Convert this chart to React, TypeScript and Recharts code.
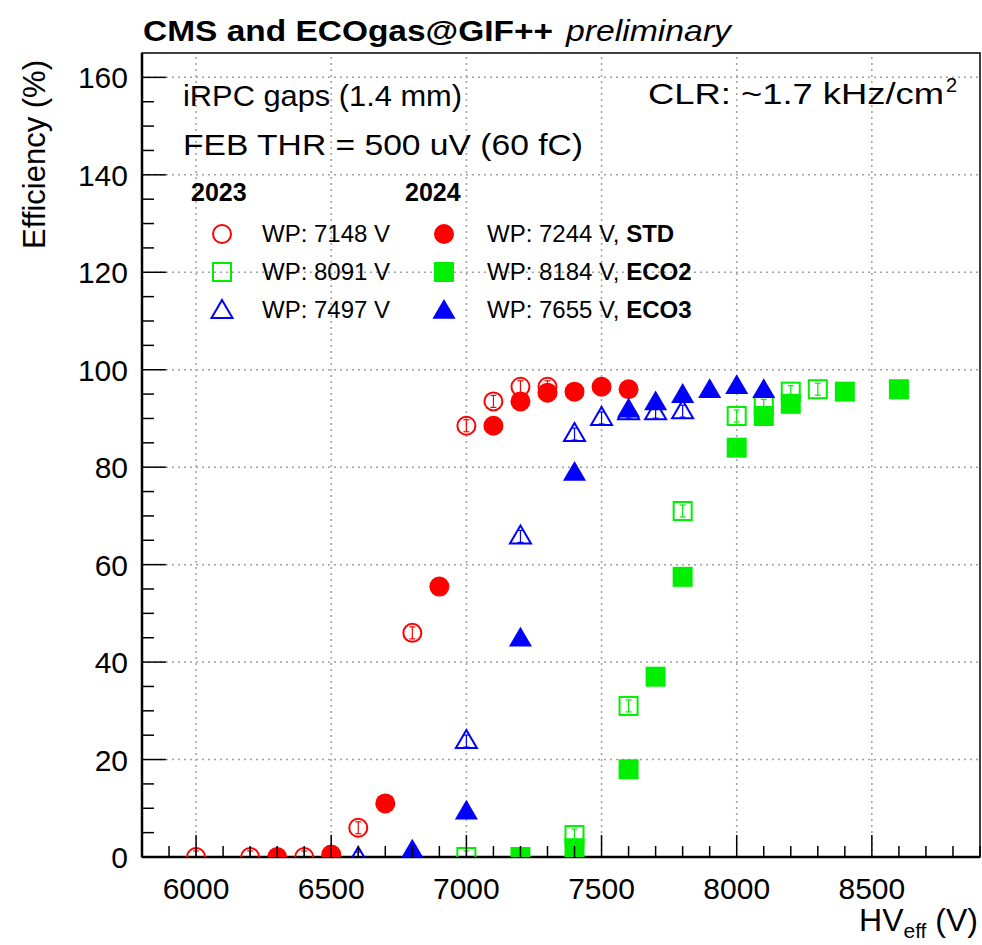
import React from "react";
import {
  ScatterChart,
  Scatter,
  XAxis,
  YAxis,
  ReferenceLine,
  ReferenceArea,
} from "recharts";

const FONT = '"Liberation Sans", Arial, Helvetica, sans-serif';

// 2023 scans (open markers)
const stdHv2023 = [6000, 6200, 6400, 6600, 6800, 7000, 7100, 7200, 7300];
const stdEff2023 = [0, 0, 0, 6, 46, 88.5, 93.5, 96.5, 96.5];
const eco2Hv2023 = [7000, 7400, 7600, 7800, 8000, 8100, 8200, 8300];
const eco2Eff2023 = [0, 4.5, 31, 71, 90.5, 92.7, 95.5, 96];
const eco3Hv2023 = [6600, 7000, 7200, 7400, 7500, 7600, 7700, 7800];
const eco3Eff2023 = [0, 24, 66, 87, 90.3, 91.5, 91.5, 91.7];

// 2024 scans (filled markers)
const stdHv2024 = [6300, 6500, 6700, 6900, 7100, 7200, 7300, 7400, 7500, 7600];
const stdEff2024 = [0, 0.5, 11, 55.5, 88.5, 93.5, 95.3, 95.5, 96.5, 96];
const eco2Hv2024 = [7200, 7400, 7600, 7700, 7800, 8000, 8100, 8200, 8400, 8600];
const eco2Eff2024 = [0, 1.8, 18, 37, 57.5, 84, 90.5, 93, 95.5, 96];
const eco3Hv2024 = [6800, 7000, 7200, 7400, 7600, 7700, 7800, 7900, 8000, 8100];
const eco3Eff2024 = [1.5, 9.5, 45, 79, 92, 93.5, 95, 96, 96.8, 96];

const xMajor = [6000, 6500, 7000, 7500, 8000, 8500];
const yMajor = [0, 20, 40, 60, 80, 100, 120, 140, 160];

const X_DOMAIN = [5800, 8900];
const Y_DOMAIN = [0, 165];
const xMinor = Array.from({ length: 32 }, (_, i) => 5800 + i * 100);
const yMinor = Array.from({ length: 33 }, (_, i) => i * 5);

const RED = "#ff0000";
const GREEN = "#00ee00";
const BLUE = "#0000ff";

const toPoints = (hv: number[], eff: number[]) =>
  hv.map((v, i) => ({ hv: v, eff: eff[i] }));

// markers
const ErrTick = ({ cx, cy, color }: any) => (
  <g stroke={color} strokeWidth={1.2}>
    <line x1={cx} y1={cy - 6} x2={cx} y2={cy + 6} />
    <line x1={cx - 3} y1={cy - 6} x2={cx + 3} y2={cy - 6} />
    <line x1={cx - 3} y1={cy + 6} x2={cx + 3} y2={cy + 6} />
  </g>
);

const OpenCircle = ({ cx, cy, color, err = true }: any) => (
  <g>
    <circle cx={cx} cy={cy} r={9} fill="none" stroke={color} strokeWidth={2} />
    {err && <ErrTick cx={cx} cy={cy} color={color} />}
  </g>
);
const FilledCircle = ({ cx, cy, color }: any) => (
  <circle cx={cx} cy={cy} r={10} fill={color} />
);
const OpenSquare = ({ cx, cy, color, err = true }: any) => (
  <g>
    <rect x={cx - 9} y={cy - 9} width={18} height={18} fill="none" stroke={color} strokeWidth={2} />
    {err && <ErrTick cx={cx} cy={cy} color={color} />}
  </g>
);
const FilledSquare = ({ cx, cy, color }: any) => (
  <rect x={cx - 10} y={cy - 10} width={20} height={20} fill={color} />
);
const triPath = (cx: number, cy: number, s: number) =>
  `M${cx},${cy - s} L${cx + s * 1.05},${cy + s * 0.8} L${cx - s * 1.05},${cy + s * 0.8} Z`;
const OpenTriangle = ({ cx, cy, color, err = true }: any) => (
  <g>
    <path d={triPath(cx, cy, 10)} fill="none" stroke={color} strokeWidth={2} />
    {err && <ErrTick cx={cx} cy={cy + 1} color={color} />}
  </g>
);
const FilledTriangle = ({ cx, cy, color }: any) => (
  <path d={triPath(cx, cy, 11)} fill={color} />
);

// axis ticks drawn inside the frame, ROOT style
const XTick = ({ x, y, payload }: any) => {
  const major = payload.value % 500 === 0;
  return (
    <g>
      <line x1={x} y1={y} x2={x} y2={y - (major ? 22 : 11)} stroke="#000" strokeWidth={1.5} />
      {major && (
        <text x={x} y={y + 42} textAnchor="middle" fontSize={30} fontFamily={FONT} fill="#000">
          {payload.value}
        </text>
      )}
    </g>
  );
};
const YTick = ({ x, y, payload }: any) => {
  const major = payload.value % 20 === 0;
  return (
    <g>
      <line x1={x} y1={y} x2={x + (major ? 24 : 12)} y2={y} stroke="#000" strokeWidth={1.5} />
      {major && (
        <text x={x - 14} y={y + 11} textAnchor="end" fontSize={30} fontFamily={FONT} fill="#000">
          {payload.value}
        </text>
      )}
    </g>
  );
};

const GRID = { stroke: "#a0a0a0", strokeWidth: 1.5, strokeDasharray: "2 4" };
const FIT = { lengthAdjust: "spacingAndGlyphs" as const };

export default function App() {
  const legendRows = [
    { y: 234, open: OpenCircle, filled: FilledCircle, color: RED, l: "WP: 7148 V", r: "WP: 7244 V, ", tag: "STD" },
    { y: 272, open: OpenSquare, filled: FilledSquare, color: GREEN, l: "WP: 8091 V", r: "WP: 8184 V, ", tag: "ECO2" },
    { y: 310, open: OpenTriangle, filled: FilledTriangle, color: BLUE, l: "WP: 7497 V", r: "WP: 7655 V, ", tag: "ECO3" },
  ];

  return (
    <div style={{ position: "absolute", left: 0, top: 0, width: 982, height: 945, background: "#fff" }}>
      <ScatterChart width={982} height={945} margin={{ top: 53, right: 2, bottom: 0, left: 0 }}>
        <XAxis
          type="number"
          dataKey="hv"
          domain={X_DOMAIN}
          ticks={xMinor}
          interval={0}
          allowDataOverflow
          height={88}
          tickSize={0}
          tickMargin={0}
          tickLine={false}
          axisLine={{ stroke: "#000", strokeWidth: 2.5 }}
          tick={<XTick />}
        />
        <YAxis
          type="number"
          dataKey="eff"
          domain={Y_DOMAIN}
          ticks={yMinor}
          interval={0}
          allowDataOverflow
          width={142}
          tickSize={0}
          tickMargin={0}
          tickLine={false}
          axisLine={{ stroke: "#000", strokeWidth: 2.5 }}
          tick={<YTick />}
        />
        {xMajor.map((v) => (
          <ReferenceLine key={"gx" + v} x={v} {...GRID} />
        ))}
        {yMajor.slice(1).map((v) => (
          <ReferenceLine key={"gy" + v} y={v} {...GRID} />
        ))}
        <ReferenceArea
          x1={X_DOMAIN[0]}
          x2={X_DOMAIN[1]}
          y1={Y_DOMAIN[0]}
          y2={Y_DOMAIN[1]}
          fill="none"
          fillOpacity={0}
          stroke="#000"
          strokeWidth={1.5}
        />
        <Scatter name="STD 2023" data={toPoints(stdHv2023, stdEff2023)} isAnimationActive={false}
          shape={(p: any) => <OpenCircle cx={p.cx} cy={p.cy} color={RED} />} />
        <Scatter name="ECO2 2023" data={toPoints(eco2Hv2023, eco2Eff2023)} isAnimationActive={false}
          shape={(p: any) => <OpenSquare cx={p.cx} cy={p.cy} color={GREEN} />} />
        <Scatter name="ECO3 2023" data={toPoints(eco3Hv2023, eco3Eff2023)} isAnimationActive={false}
          shape={(p: any) => <OpenTriangle cx={p.cx} cy={p.cy} color={BLUE} />} />
        <Scatter name="STD 2024" data={toPoints(stdHv2024, stdEff2024)} isAnimationActive={false}
          shape={(p: any) => <FilledCircle cx={p.cx} cy={p.cy} color={RED} />} />
        <Scatter name="ECO2 2024" data={toPoints(eco2Hv2024, eco2Eff2024)} isAnimationActive={false}
          shape={(p: any) => <FilledSquare cx={p.cx} cy={p.cy} color={GREEN} />} />
        <Scatter name="ECO3 2024" data={toPoints(eco3Hv2024, eco3Eff2024)} isAnimationActive={false}
          shape={(p: any) => <FilledTriangle cx={p.cx} cy={p.cy} color={BLUE} />} />
      </ScatterChart>

      {/* titles, annotations and legend */}
      <svg width={982} height={945} style={{ position: "absolute", left: 0, top: 0, pointerEvents: "none" }}
        fontFamily={FONT}>
        <text x={143} y={41} fontSize={29} fontWeight="bold" textLength={410} {...FIT}>
          CMS and ECOgas@GIF++
        </text>
        <text x={566} y={41} fontSize={29} fontStyle="italic" textLength={165} {...FIT}>
          preliminary
        </text>
        <text x={45} y={60} fontSize={31} textAnchor="end" transform="rotate(-90 45 60)">
          Efficiency (%)
        </text>
        <text x={978} y={931} fontSize={32} textAnchor="end">
          <tspan>HV</tspan>
          <tspan fontSize={21} dy={7}>eff</tspan>
          <tspan dy={-7}> (V)</tspan>
        </text>
        <text x={183} y={106} fontSize={30} textLength={279} {...FIT}>iRPC gaps (1.4 mm)</text>
        <text x={648} y={104} fontSize={30} textLength={296} {...FIT}>CLR: ~1.7 kHz/cm</text>
        <text x={946} y={92} fontSize={20}>2</text>
        <text x={183} y={155} fontSize={30} textLength={400} {...FIT}>FEB THR = 500 uV (60 fC)</text>
        <text x={191} y={201} fontSize={25} fontWeight="bold">2023</text>
        <text x={405} y={201} fontSize={25} fontWeight="bold">2024</text>
        {legendRows.map((r) => {
          const Open = r.open;
          const Filled = r.filled;
          return (
            <g key={r.tag}>
              <Open cx={222} cy={r.y} color={r.color} err={false} />
              <text x={262} y={r.y + 8} fontSize={24}>{r.l}</text>
              <Filled cx={444} cy={r.y} color={r.color} />
              <text x={487} y={r.y + 8} fontSize={24}>
                {r.r}
                <tspan fontWeight="bold">{r.tag}</tspan>
              </text>
            </g>
          );
        })}
      </svg>
    </div>
  );
}
